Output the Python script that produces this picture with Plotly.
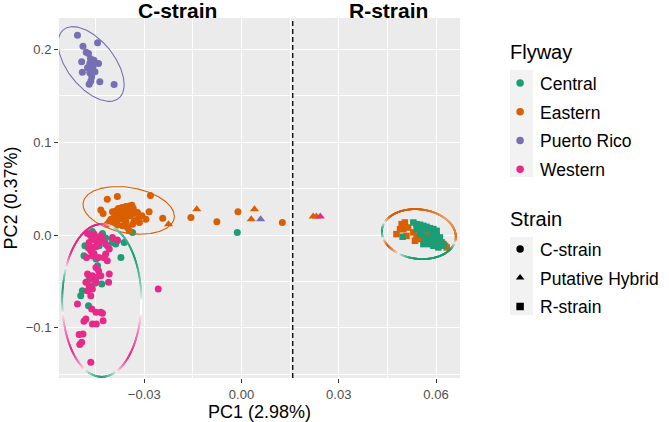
import numpy as np
import plotly.graph_objects as go

# PCA scores, one pair of lists per flyway / strain group
central_c_pc1 = [-0.0460, -0.0429, -0.0419, -0.0383, -0.0398, -0.0362, -0.0336, -0.0483, -0.0439, -0.0414,
                 -0.0486, -0.0424, -0.0372, -0.0449, -0.0444, -0.0470, -0.0431, -0.0491, -0.0496, -0.0472,
                 -0.0398, -0.0388, -0.0452, -0.0013]
central_c_pc2 = [0.0040, 0.0018, -0.0032, -0.0061, -0.0079, -0.0079, 0.0029, -0.0115, -0.0115, -0.0115,
                 -0.0222, -0.0240, -0.0240, -0.0258, -0.0330, -0.0473, -0.0527, -0.0599, -0.0653, -0.0760,
                 -0.0043, -0.0097, -0.0520, 0.0029]

western_c_pc1 = [-0.0475, -0.0465, -0.0455, -0.0444, -0.0434, -0.0460, -0.0449, -0.0470, -0.0439, -0.0429,
                 -0.0472, -0.0460, -0.0449, -0.0465, -0.0455, -0.0478, -0.0460, -0.0441, -0.0419, -0.0424,
                 -0.0414, -0.0449, -0.0441, -0.0475, -0.0460, -0.0448, -0.0434, -0.0408, -0.0465, -0.0480,
                 -0.0449, -0.0410, -0.0470, -0.0460, -0.0475, -0.0465, -0.0506, -0.0462, -0.0449, -0.0434,
                 -0.0429, -0.0480, -0.0486, -0.0460, -0.0448, -0.0427, -0.0501, -0.0489, -0.0493, -0.0499,
                 -0.0465, -0.0398, -0.0419, -0.0408, -0.0383, -0.0257]
western_c_pc2 = [0.0018, -0.0008, 0.0011, -0.0025, -0.0008, -0.0043, -0.0061, -0.0079, -0.0079, -0.0043,
                 -0.0140, -0.0133, -0.0125, -0.0168, -0.0197, -0.0240, -0.0222, -0.0240, -0.0204, -0.0240,
                 -0.0276, -0.0348, -0.0384, -0.0419, -0.0437, -0.0455, -0.0437, -0.0419, -0.0473, -0.0509,
                 -0.0509, -0.0509, -0.0545, -0.0581, -0.0599, -0.0653, -0.0742, -0.0796, -0.0831, -0.0831,
                 -0.0842, -0.0903, -0.0928, -0.0957, -0.0957, -0.0922, -0.1072, -0.1065, -0.1154, -0.1180,
                 -0.1369, -0.0025, -0.0097, -0.0151, -0.0054, -0.0581]

eastern_c_pc1 = [-0.0414, -0.0383, -0.0281, -0.0434, -0.0427, -0.0398, -0.0388, -0.0380, -0.0369, -0.0357,
                 -0.0346, -0.0338, -0.0334, -0.0352, -0.0362, -0.0372, -0.0383, -0.0393, -0.0403, -0.0408,
                 -0.0398, -0.0388, -0.0377, -0.0367, -0.0357, -0.0346, -0.0336, -0.0321, -0.0307, -0.0285,
                 -0.0295, -0.0315, -0.0336, -0.0352, -0.0367, -0.0383, -0.0414, -0.0346, -0.0243, -0.0318,
                 -0.0357, -0.0331, -0.0156, -0.0011, -0.0076, 0.0126]
eastern_c_pc2 = [0.0387, 0.0416, 0.0427, 0.0272, 0.0233, 0.0251, 0.0261, 0.0287, 0.0298, 0.0309,
                 0.0315, 0.0323, 0.0287, 0.0261, 0.0244, 0.0226, 0.0208, 0.0190, 0.0172, 0.0143,
                 0.0137, 0.0154, 0.0172, 0.0180, 0.0190, 0.0208, 0.0226, 0.0244, 0.0208, 0.0251,
                 0.0172, 0.0137, 0.0118, 0.0083, 0.0100, 0.0108, 0.0118, 0.0046, 0.0183, 0.0180,
                 0.0143, 0.0154, 0.0190, 0.0251, 0.0143, 0.0137]

pr_c_pc1 = [-0.0506, -0.0489, -0.0444, -0.0479, -0.0472, -0.0493, -0.0455, -0.0441, -0.0468, -0.0475,
            -0.0460, -0.0491, -0.0468, -0.0462, -0.0465, -0.0437, -0.0470, -0.0393, -0.0466, -0.0458, -0.0452]
pr_c_pc2 = [0.2154, 0.2035, 0.2072, 0.1971, 0.1957, 0.1868, 0.1885, 0.1849, 0.1849, 0.1803,
            0.1785, 0.1756, 0.1749, 0.1706, 0.1659, 0.1653, 0.1627, 0.1624, 0.1900, 0.1820, 0.1760]

# putative hybrids
eastern_h_pc1 = [-0.0225, -0.0138, 0.0040, 0.0030, 0.0221, 0.0231]
eastern_h_pc2 = [0.0118, 0.0280, 0.0280, 0.0172, 0.0201, 0.0201]
pr_h_pc1 = [0.0059]
pr_h_pc2 = [0.0172]
western_h_pc1 = [0.0243]
western_h_pc2 = [0.0201]

# R-strain
eastern_r_pc1 = [0.0478, 0.0489, 0.0494, 0.0504, 0.0514, 0.0509, 0.0530, 0.0540, 0.0535, 0.0551,
                 0.0561, 0.0576, 0.0581, 0.0597, 0.0628, 0.0633, 0.0618, 0.0571, 0.0499]
eastern_r_pc2 = [0.0011, 0.0065, 0.0118, 0.0136, 0.0082, -0.0008, 0.0029, -0.0008, -0.0061, -0.0043,
                 0.0011, 0.0029, -0.0008, -0.0079, -0.0115, -0.0133, -0.0079, -0.0061, 0.0065]
central_r_pc1 = [0.0497, 0.0530, 0.0540, 0.0551, 0.0561, 0.0571, 0.0581, 0.0592, 0.0602, 0.0540,
                 0.0556, 0.0566, 0.0576, 0.0587, 0.0592, 0.0602, 0.0607, 0.0612, 0.0618, 0.0607,
                 0.0592, 0.0581, 0.0571, 0.0561, 0.0597, 0.0612, 0.0623, 0.0551, 0.0587, 0.0576]
central_r_pc2 = [-0.0018, 0.0136, 0.0118, 0.0111, 0.0100, 0.0089, 0.0075, 0.0065, 0.0046, 0.0065,
                 0.0046, -0.0025, -0.0061, -0.0054, -0.0025, -0.0008, -0.0043, -0.0068, -0.0115, -0.0133,
                 -0.0115, -0.0097, -0.0089, -0.0097, 0.0018, -0.0025, -0.0097, 0.0004, 0.0011, 0.0065]

# ellipses: centre, half extents, x/y coupling
ell_pc1 = [-0.0464, -0.0348, -0.0431, 0.0547]
ell_pc2 = [0.1844, 0.0267, -0.0704, 0.0011]
ell_half_pc1 = [0.0102, 0.0141, 0.0122, 0.0114]
ell_half_pc2 = [0.0403, 0.0257, 0.0823, 0.0269]
ell_rho = [-0.55, -0.25, 0.0, -0.1]

# colour drift along the two shared ellipses (angle in degrees, -1 = first flyway, +1 = Central)
shade_left_deg = [0, 35, 65, 95, 140, 170, 190, 220, 270, 315, 350, 360]
shade_left_w = [0, 1, 0.6, -1, -1, 1, 0, -1, 1, -1, 0, 0]
shade_right_deg = [0, 45, 90, 140, 180, 215, 260, 330, 360]
shade_right_w = [-0.8, -0.4, -1, -1, 1, -1, 1, 1, -0.8]

strain_split = 0.0158

flyways = ['Central', 'Eastern', 'Puerto Rico', 'Western']
strains = ['C-strain', 'Putative Hybrid', 'R-strain']
colors = {'Central': '#1B9E77', 'Eastern': '#D95F02', 'Puerto Rico': '#7570B3', 'Western': '#E7298A'}
symbols = {'C-strain': 'circle', 'Putative Hybrid': 'triangle-up', 'R-strain': 'square'}
sizes = {'C-strain': 7, 'Putative Hybrid': 8, 'R-strain': 6.5}

FONT = 'Liberation Sans, Arial, Helvetica, sans-serif'

fig = go.Figure()

groups = [
    ('Eastern', 'R-strain', eastern_r_pc1, eastern_r_pc2),
    ('Central', 'R-strain', central_r_pc1, central_r_pc2),
    ('Central', 'C-strain', central_c_pc1, central_c_pc2),
    ('Western', 'C-strain', western_c_pc1, western_c_pc2),
    ('Eastern', 'C-strain', eastern_c_pc1, eastern_c_pc2),
    ('Puerto Rico', 'C-strain', pr_c_pc1, pr_c_pc2),
    ('Eastern', 'Putative Hybrid', eastern_h_pc1, eastern_h_pc2),
    ('Puerto Rico', 'Putative Hybrid', pr_h_pc1, pr_h_pc2),
    ('Western', 'Putative Hybrid', western_h_pc1, western_h_pc2),
]
for fw, st, xs, ys in groups:
    fig.add_trace(go.Scatter(
        x=xs, y=ys, mode='markers', showlegend=False,
        marker=dict(color=colors[fw], symbol=symbols[st], size=sizes[st], line=dict(width=0)),
        hovertemplate=fw + ' / ' + st + '<br>PC1 %{x}<br>PC2 %{y}<extra></extra>'))


def ellipse(i, n=600):
    t = np.linspace(0, 2 * np.pi, n)
    phi = np.arccos(ell_rho[i])
    return ell_pc1[i] + ell_half_pc1[i] * np.cos(t), ell_pc2[i] + ell_half_pc2[i] * np.cos(t - phi), t


def mix(c1, c2, w):
    a = np.array([int(c1[k:k + 2], 16) for k in (1, 3, 5)])
    b = np.array([int(c2[k:k + 2], 16) for k in (1, 3, 5)])
    r = (a + (b - a) * w).round().astype(int)
    return 'rgb(%d,%d,%d)' % tuple(r)


# single-colour ellipses
for i, fw in [(0, 'Puerto Rico'), (1, 'Eastern')]:
    ex, ey, _ = ellipse(i)
    fig.add_trace(go.Scatter(x=ex, y=ey, mode='lines', showlegend=False, hoverinfo='skip',
                             line=dict(color=colors[fw], width=1.1)))

# two-colour (shaded) ellipses
for i, first, other, kd, kw in [(2, 'Western', 'Central', shade_left_deg, shade_left_w),
                                (3, 'Eastern', 'Central', shade_right_deg, shade_right_w)]:
    ex, ey, t = ellipse(i, 900)
    w = np.interp(np.degrees(t), kd, kw)
    cols = [mix('#FFFFFF', colors[first] if v < 0 else colors[other], abs(v) ** 0.6) for v in w]
    fig.add_trace(go.Scatter(x=ex, y=ey, mode='markers', showlegend=False, hoverinfo='skip',
                             marker=dict(color=cols, size=1.8, line=dict(width=0))))

# legend entries
for fw in flyways:
    fig.add_trace(go.Scatter(x=[None], y=[None], mode='markers', name=fw, legend='legend',
                             legendgroup=fw, marker=dict(color=colors[fw], size=7.5, symbol='circle')))
for st in strains:
    fig.add_trace(go.Scatter(x=[None], y=[None], mode='markers', name=st, legend='legend2',
                             legendgroup=st, marker=dict(color='black', size=7.5, symbol=symbols[st])))

fig.add_shape(type='line', x0=strain_split, x1=strain_split, y0=0, y1=1, xref='x', yref='paper',
              line=dict(color='black', width=1.3, dash='5px,3px'))

for txt, xpos in [('C-strain', -0.0197), ('R-strain', 0.0452)]:
    fig.add_annotation(x=xpos, y=1.0195, xref='x', yref='paper', yanchor='middle', text='<b>' + txt + '</b>',
                       showarrow=False, font=dict(size=21, color='black', family=FONT))

# legend titles and grey key backgrounds
for txt, ypos in [('Flyway', 0.906), ('Strain', 0.442)]:
    fig.add_annotation(x=1.12, y=ypos, xref='paper', yref='paper', xanchor='left', yanchor='middle',
                       text=txt, showarrow=False, font=dict(size=20, color='black', family=FONT))
for y0, y1 in [(0.558, 0.856), (0.175, 0.392)]:
    fig.add_shape(type='rect', xref='paper', yref='paper', x0=1.1247, x1=1.182, y0=y0, y1=y1,
                  fillcolor='#F2F2F2', line=dict(width=0), layer='below')

axis_common = dict(showgrid=True, gridcolor='white', gridwidth=1.2, zeroline=False, showline=False,
                   ticks='outside', ticklen=4, tickwidth=1, tickcolor='#333333',
                   tickfont=dict(size=13, color='#4D4D4D', family=FONT))

fig.update_layout(
    width=669, height=422,
    margin=dict(l=59, r=209, t=18, b=44, autoexpand=False),
    paper_bgcolor='white', plot_bgcolor='#EBEBEB',
    font=dict(family=FONT, color='black'),
    xaxis=dict(range=[-0.0563, 0.0674], tick0=0, dtick=0.03, tickformat='.2f',
               minor=dict(tick0=0, dtick=0.015, showgrid=True, gridcolor='white', gridwidth=0.6),
               title=dict(text='PC1 (2.98%)', font=dict(size=18, color='black'), standoff=3),
               **axis_common),
    yaxis=dict(range=[-0.154, 0.234], tick0=0, dtick=0.1, tickformat='.1f',
               minor=dict(tick0=0, dtick=0.05, showgrid=True, gridcolor='white', gridwidth=0.6),
               title=dict(text='PC2 (0.37%)', font=dict(size=18, color='black'), standoff=3),
               **axis_common),
    legend=dict(x=1.10, xanchor='left', y=0.869, yanchor='top', traceorder='grouped', tracegroupgap=3,
                font=dict(size=17.5), bgcolor='rgba(0,0,0,0)'),
    legend2=dict(x=1.10, xanchor='left', y=0.408, yanchor='top', traceorder='grouped', tracegroupgap=3,
                 font=dict(size=17.5), bgcolor='rgba(0,0,0,0)'),
)

# the page's default body margin would push the fixed-size figure off the window
fig.write_html('out.html', config={'displayModeBar': False},
               post_script="document.body.style.margin='0px';")
